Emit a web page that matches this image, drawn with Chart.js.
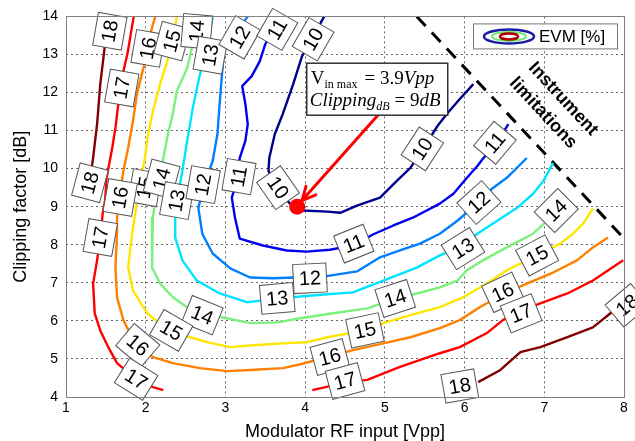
<!DOCTYPE html>
<html>
<head>
<meta charset="utf-8">
<script src="https://cdn.jsdelivr.net/npm/chart.js@4.4.1/dist/chart.umd.min.js"></script>
<style>
  html, body { margin: 0; padding: 0; background: #fff; }
</style>
</head>
<body>
<canvas id="evm" width="635" height="441"></canvas>
<script>
// axis ticks
const xTicks = [1, 2, 3, 4, 5, 6, 7, 8];
const yTicks = [4, 5, 6, 7, 8, 9, 10, 11, 12, 13, 14];

// contour levels (EVM %) and their jet colours
const levels = [10, 11, 12, 13, 14, 15, 16, 17, 18];
const levelColors = ['#00008f', '#0000ee', '#0080ff', '#00e4ff', '#7cf07c', '#ffe600', '#ff8000', '#ff0000', '#800000'];

// contour lines, [Vpp, dB]
const evm10 = [[4.24, 14], [3.96, 12.95], [3.85, 12.22], [3.72, 11.44], [3.62, 10.91], [3.55, 10.28], [3.54, 9.94], [3.59, 9.68], [3.66, 9.42], [3.86, 8.97], [3.97, 8.9], [4.28, 8.87], [4.44, 8.84], [4.65, 9.03], [4.94, 9.24], [5.15, 9.68], [5.32, 10.02], [5.48, 10.52], [5.66, 11.12], [5.78, 11.44], [5.94, 11.83], [6.11, 12.22]];
const evm11 = [[3.71, 14], [3.5, 13.27], [3.43, 12.82], [3.33, 12.43], [3.21, 12.17], [3.25, 11.7], [3.28, 11.17], [3.25, 10.73], [3.18, 10.28], [3.16, 10.02], [3.16, 9.76], [3.08, 9.24], [3.12, 8.71], [3.18, 8.16], [3.47, 7.98], [3.77, 7.85], [4.02, 7.82], [4.31, 7.87], [4.6, 7.98], [4.85, 8.27], [5.1, 8.5], [5.35, 8.71], [5.69, 9.08], [5.86, 9.34], [6.03, 9.76], [6.16, 10.07], [6.26, 10.34], [6.36, 10.68], [6.47, 10.91], [6.55, 11.17]];
const evm12 = [[3.28, 14], [3.13, 13.56], [2.98, 13.08], [2.96, 12.56], [2.93, 11.78], [2.9, 10.91], [2.84, 10.2], [2.74, 9.63], [2.66, 8.97], [2.71, 8.29], [2.84, 7.77], [3.06, 7.38], [3.31, 7.14], [3.6, 7.12], [3.85, 7.14], [4.06, 7.12], [4.31, 7.19], [4.65, 7.3], [4.94, 7.67], [5.19, 7.85], [5.44, 8.03], [5.69, 8.29], [5.91, 8.63], [6.17, 9.1], [6.36, 9.5], [6.53, 9.76], [6.78, 10.28]];
const evm13 = [[2.84, 14], [2.77, 13.08], [2.68, 12.48], [2.59, 11.59], [2.52, 10.73], [2.46, 9.94], [2.39, 9.16], [2.37, 8.71], [2.37, 8.19], [2.46, 7.59], [2.64, 7.06], [2.93, 6.72], [3.27, 6.49], [3.47, 6.54], [3.66, 6.59], [3.94, 6.64], [4.28, 6.7], [4.6, 6.75], [4.98, 7.06], [5.4, 7.4], [5.69, 7.72], [5.98, 7.98], [6.16, 8.29], [6.41, 8.63], [6.66, 8.97], [6.86, 9.34], [6.99, 9.68], [7.11, 10.15]];
const evm14 = [[2.67, 14], [2.59, 13.27], [2.52, 12.64], [2.39, 12.04], [2.34, 11.44], [2.28, 10.91], [2.22, 10.28], [2.18, 9.68], [2.12, 9.16], [2.09, 8.71], [2.08, 8.29], [2.08, 7.4], [2.18, 6.98], [2.34, 6.62], [2.52, 6.36], [2.68, 6.2], [3.02, 6.07], [3.31, 5.94], [3.65, 5.96], [3.94, 6.07], [4.35, 6.2], [4.78, 6.33], [5.15, 6.59], [5.4, 6.72], [5.69, 6.88], [5.91, 7.06], [6.03, 7.33], [6.23, 7.59], [6.53, 7.93], [6.86, 8.29], [7.01, 8.58], [7.17, 8.84], [7.29, 9.16]];
const evm15 = [[2.39, 14], [2.34, 13.35], [2.27, 12.82], [2.18, 12.22], [2.09, 11.51], [2.03, 10.91], [1.99, 10.28], [1.95, 9.86], [1.92, 9.42], [1.87, 8.84], [1.83, 8.29], [1.78, 7.4], [1.84, 6.8], [2.02, 6.2], [2.31, 5.7], [2.56, 5.57], [2.77, 5.44], [3.06, 5.31], [3.35, 5.36], [3.72, 5.41], [4.02, 5.44], [4.28, 5.57], [4.56, 5.68], [4.78, 5.75], [4.98, 5.94], [5.32, 6.15], [5.69, 6.36], [5.98, 6.62], [6.28, 6.98], [6.53, 7.33], [6.91, 7.72], [7.2, 8.03], [7.36, 8.29], [7.49, 8.56], [7.61, 8.95]];
const evm16 = [[2.12, 14], [2.05, 13.48], [2.02, 12.95], [1.97, 12.64], [1.89, 11.96], [1.84, 11.25], [1.78, 10.55], [1.72, 9.94], [1.68, 9.37], [1.64, 8.71], [1.64, 8.29], [1.62, 7.4], [1.64, 6.62], [1.72, 6.02], [1.8, 5.68], [1.89, 5.31], [2.09, 5.05], [2.34, 4.89], [2.68, 4.76], [3.02, 4.68], [3.31, 4.71], [3.72, 4.76], [3.94, 4.86], [4.28, 5.05], [4.6, 5.23], [4.98, 5.41], [5.32, 5.57], [5.69, 5.81], [5.94, 6.02], [6.19, 6.36], [6.48, 6.7], [6.78, 6.98], [7.11, 7.27], [7.41, 7.59], [7.61, 7.93], [7.8, 8.19]];
const evm17a = [[1.85, 14], [1.77, 13.01], [1.7, 12.38], [1.65, 11.59], [1.62, 11.07], [1.58, 10.55], [1.51, 9.76], [1.49, 9.16], [1.46, 8.82], [1.43, 8.19], [1.39, 7.59], [1.34, 6.98], [1.36, 6.2], [1.43, 5.75], [1.53, 5.31], [1.64, 4.89], [1.89, 4.45], [2.09, 4.26], [2.22, 4.18]];
const evm17b = [[4.09, 4.18], [4.53, 4.39], [4.78, 4.45], [5.19, 4.79], [5.69, 5.15], [5.94, 5.31], [6.28, 5.68], [6.48, 6.02], [6.73, 6.28], [6.95, 6.46], [7.29, 6.72], [7.61, 7.06], [7.99, 7.59]];
const evm18a = [[1.53, 14], [1.49, 13.27], [1.43, 12.22], [1.39, 11.17], [1.34, 10.28], [1.3, 9.68], [1.25, 9.24]];
const evm18b = [[6.17, 4.39], [6.45, 4.71], [6.7, 5.18], [6.95, 5.31], [7.29, 5.57], [7.61, 5.83], [7.83, 6.2], [7.99, 6.46]];

const contourLines = [
    [10, evm10], [11, evm11], [12, evm12], [13, evm13], [14, evm14],
    [15, evm15], [16, evm16], [17, evm17a], [17, evm17b], [18, evm18a], [18, evm18b]
];

// instrument limitation boundary
const limitX = [5.4, 7.99];
const limitY = [14, 8.19];

// contour labels (clabel boxes), in draw order
const labelText  = [18, 17, 16, 15, 14, 13, 12, 11, 10, 15, 18, 16, 14, 13, 12, 11, 10, 17, 14, 15, 16, 17, 13, 12, 11, 14, 15, 16, 17, 18, 10, 11, 12, 13, 14, 15, 16, 17, 18];
const labelX     = [1.55, 1.70, 2.03, 2.33, 2.64, 2.81, 3.18, 3.65, 4.10, 1.99, 1.30, 1.68, 2.20, 2.39, 2.72, 3.17, 3.66, 1.43, 2.71, 2.32, 1.90, 1.88, 3.65, 4.06, 4.61, 5.13, 4.75, 4.31, 4.50, 5.94, 5.47, 6.38, 6.18, 5.98, 7.15, 6.91, 6.48, 6.71, 8.04];
const labelY     = [13.61, 12.12, 13.16, 13.35, 13.61, 12.98, 13.45, 13.66, 13.40, 9.50, 9.63, 9.24, 9.73, 9.16, 9.58, 9.79, 9.50, 8.19, 6.15, 5.75, 5.36, 4.47, 6.59, 7.12, 8.03, 6.59, 5.75, 5.05, 4.42, 4.29, 10.52, 10.68, 9.11, 7.90, 8.90, 7.72, 6.75, 6.20, 6.41];
const labelAngle = [-80, -80, -80, -75, -85, -80, -60, -60, -60, -80, -75, -80, -75, -80, -80, -80, 55, -80, 22, 30, 40, 32, -5, -3, -22, -18, -12, -15, -15, -10, -57, -50, -42, -32, -45, -28, -25, -22, -40];

// marked operating point and its note
const opPoint = [3.9, 9];
const arrowFrom = [4.915, 11.41];
const arrowTo = [3.96, 9.16];

const sans = '"Liberation Sans", Arial, sans-serif';
const serif = '"Liberation Serif", "Times New Roman", serif';

const datasets = contourLines.map(([lvl, pts]) => ({
    data: pts.map(p => ({ x: p[0], y: p[1] })),
    showLine: true,
    pointRadius: 0,
    borderWidth: 2.4,
    borderColor: levelColors[levels.indexOf(lvl)],
    borderJoinStyle: 'round',
    tension: 0
}));

datasets.push({
    data: limitX.map((v, i) => ({ x: v, y: limitY[i] })),
    showLine: true,
    pointRadius: 0,
    borderWidth: 3,
    borderColor: '#000',
    borderDash: [13, 9]
});

const overlays = {
    id: 'overlays',
    afterDatasetsDraw(chart) {
        const { ctx, chartArea: area, scales: { x, y } } = chart;
        ctx.save();

        // "Instrument limitations"
        ctx.fillStyle = '#000';
        ctx.font = 'bold 18px ' + sans;
        ctx.textAlign = 'center';
        ctx.textBaseline = 'middle';
        [['Instrument', 7.236, 11.83], ['limitations', 6.985, 11.46]].forEach(([t, vx, vy]) => {
            ctx.save();
            ctx.translate(x.getPixelForValue(vx), y.getPixelForValue(vy));
            ctx.rotate(47 * Math.PI / 180);
            ctx.fillText(t, 0, 0);
            ctx.restore();
        });

        // contour labels
        ctx.font = '20px ' + sans;
        labelText.forEach((t, i) => {
            const txt = String(t);
            const w = ctx.measureText(txt).width + 11;
            const h = 29;
            ctx.save();
            ctx.translate(x.getPixelForValue(labelX[i]), y.getPixelForValue(labelY[i]));
            ctx.rotate(labelAngle[i] * Math.PI / 180);
            ctx.fillStyle = '#fff';
            ctx.fillRect(-w / 2, -h / 2, w, h);
            ctx.strokeStyle = '#555';
            ctx.lineWidth = 1;
            ctx.strokeRect(-w / 2, -h / 2, w, h);
            ctx.fillStyle = '#000';
            ctx.fillText(txt, 0, 1);
            ctx.restore();
        });

        // arrow to the operating point
        const ax1 = x.getPixelForValue(arrowFrom[0]), ay1 = y.getPixelForValue(arrowFrom[1]);
        const ax2 = x.getPixelForValue(arrowTo[0]), ay2 = y.getPixelForValue(arrowTo[1]);
        const ang = Math.atan2(ay2 - ay1, ax2 - ax1);
        ctx.strokeStyle = '#ff0000';
        ctx.lineWidth = 3;
        ctx.lineCap = 'round';
        ctx.beginPath();
        ctx.moveTo(ax1, ay1);
        ctx.lineTo(ax2, ay2);
        [-0.45, 0.45].forEach(d => {
            ctx.moveTo(ax2, ay2);
            ctx.lineTo(ax2 - 15 * Math.cos(ang + d), ay2 - 15 * Math.sin(ang + d));
        });
        ctx.stroke();

        ctx.fillStyle = '#ff0000';
        ctx.beginPath();
        ctx.arc(x.getPixelForValue(opPoint[0]), y.getPixelForValue(opPoint[1]), 8, 0, Math.PI * 2);
        ctx.fill();

        // note box
        const bx = x.getPixelForValue(4.02), by = y.getPixelForValue(12.77);
        ctx.fillStyle = '#fff';
        ctx.fillRect(bx, by, 141, 52);
        ctx.strokeStyle = '#333';
        ctx.lineWidth = 1.5;
        ctx.strokeRect(bx, by, 141, 52);
        ctx.fillStyle = '#000';
        ctx.textAlign = 'left';
        ctx.textBaseline = 'alphabetic';
        const parts = (list, px, base) => {
            list.forEach(([txt, font, dy, gap]) => {
                ctx.font = font;
                ctx.fillText(txt, px, base + dy);
                px += ctx.measureText(txt).width + gap;
            });
        };
        parts([
            ['V', '19px ' + serif, 0, 0],
            ['in max', '12px ' + serif, 4, 7],
            ['= 3.9', '19px ' + serif, 0, 0],
            ['Vpp', 'italic 19px ' + serif, 0, 0]
        ], bx + 4, by + 21);
        parts([
            ['Clipping', 'italic 19px ' + serif, 0, 0],
            ['dB', 'italic 12px ' + serif, 4, 5],
            ['= 9', '19px ' + serif, 0, 0],
            ['dB', 'italic 19px ' + serif, 0, 0]
        ], bx + 3, by + 43);

        // legend
        const lx = area.right - 151, ly = area.top + 7;
        ctx.fillStyle = '#fff';
        ctx.fillRect(lx, ly, 144, 25);
        ctx.strokeStyle = '#777';
        ctx.lineWidth = 1;
        ctx.strokeRect(lx + 0.5, ly + 0.5, 144, 25);
        const ex = lx + 36, ey = ly + 13;
        [[25, 7, '#1a1aa8', 2.5], [17, 4.5, '#6ee86e', 2], [9, 3, '#b00000', 2.5]].forEach(([rx, ry, col, lw]) => {
            ctx.strokeStyle = col;
            ctx.lineWidth = lw;
            ctx.beginPath();
            ctx.ellipse(ex, ey, rx, ry, 0, 0, Math.PI * 2);
            ctx.stroke();
        });
        ctx.fillStyle = '#000';
        ctx.font = '17px ' + sans;
        ctx.textBaseline = 'middle';
        ctx.fillText('EVM [%]', lx + 66, ey + 1);

        // axes frame
        ctx.strokeStyle = '#808080';
        ctx.lineWidth = 1;
        ctx.strokeRect(Math.round(area.left) + 0.5, Math.round(area.top) + 0.5,
            Math.round(area.right - area.left), Math.round(area.bottom - area.top));
        ctx.restore();
    }
};

new Chart(document.getElementById('evm'), {
    type: 'scatter',
    data: { datasets },
    options: {
        responsive: false,
        animation: false,
        events: [],
        layout: { padding: { left: 0, top: 15, right: 11, bottom: 0 } },
        plugins: {
            legend: { display: false },
            tooltip: { enabled: false }
        },
        scales: {
            x: {
                type: 'linear',
                min: xTicks[0],
                max: xTicks[xTicks.length - 1],
                afterBuildTicks: s => { s.ticks = xTicks.map(v => ({ value: v })); },
                afterFit: s => { s.height = 44; },
                ticks: { padding: 3, color: '#000', font: { size: 14, family: sans } },
                grid: { color: '#666', lineWidth: 1, drawTicks: false },
                border: { display: false, dash: [2, 3] },
                title: {
                    display: true, text: 'Modulator RF input [Vpp]', color: '#000',
                    font: { size: 18, family: sans, lineHeight: 1 }, padding: { top: 0, bottom: 0 }
                }
            },
            y: {
                type: 'linear',
                min: yTicks[0],
                max: yTicks[yTicks.length - 1],
                afterBuildTicks: s => { s.ticks = yTicks.map(v => ({ value: v })); },
                afterFit: s => { s.width = 66; },
                ticks: { padding: 8, color: '#000', font: { size: 14, family: sans } },
                grid: { color: '#666', lineWidth: 1, drawTicks: false },
                border: { display: false, dash: [2, 3] },
                title: {
                    display: true, text: 'Clipping factor [dB]', color: '#000',
                    font: { size: 18, family: sans, lineHeight: 1 }, padding: { top: 12, bottom: 0 }
                }
            }
        }
    },
    plugins: [overlays]
});
</script>
</body>
</html>
